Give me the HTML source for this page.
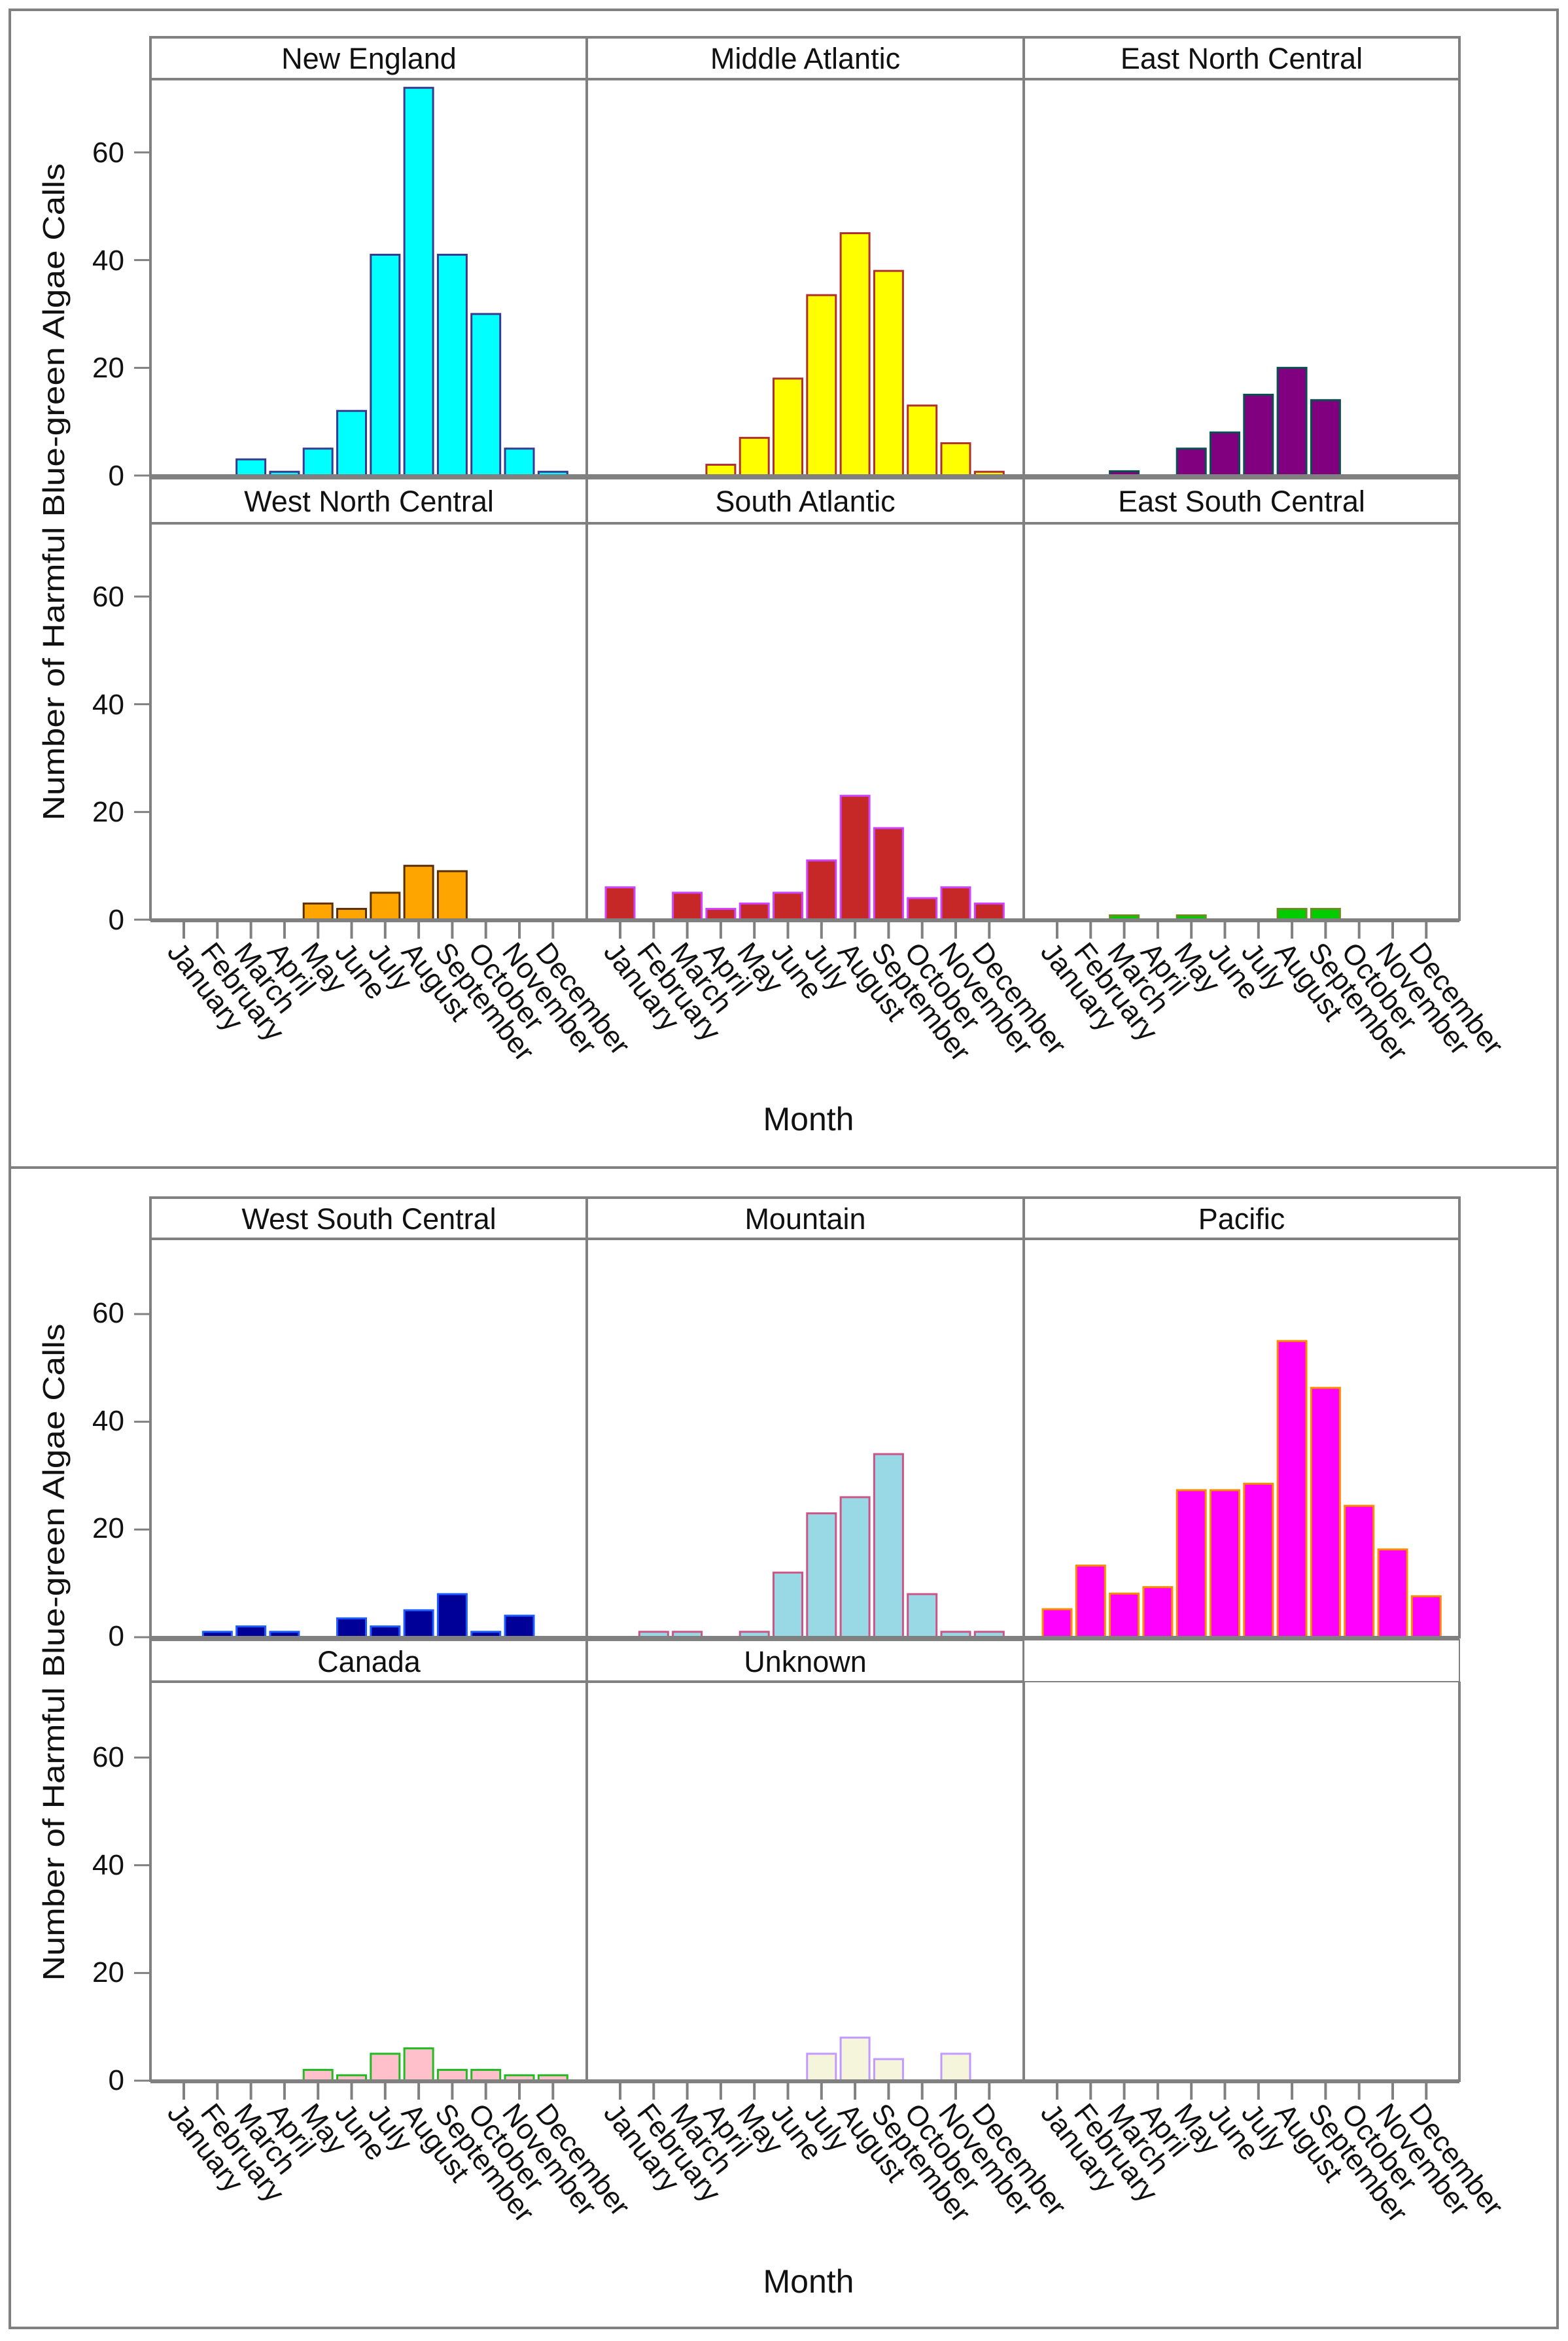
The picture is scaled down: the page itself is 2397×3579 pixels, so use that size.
<!DOCTYPE html>
<html><head><meta charset="utf-8"><style>
html,body{margin:0;padding:0;background:#fff;}
svg{display:block;}
text{font-family:"Liberation Sans",Arial,sans-serif;fill:#111;}
.s{font-size:45px;text-anchor:middle;}
.y{font-size:44px;text-anchor:end;}
.m{font-size:44px;}
</style></head><body>
<svg id="c" width="2397" height="3579" viewBox="0 0 2397 3579" xmlns="http://www.w3.org/2000/svg">
<rect width="2397" height="3579" fill="#fff"/>
<g id="g"></g>
<g id="txt">
<text transform="translate(98,752) rotate(-90)" font-size="46" text-anchor="middle" textLength="1005" lengthAdjust="spacingAndGlyphs">Number of Harmful Blue-green Algae Calls</text>
<text transform="translate(98,2526) rotate(-90)" font-size="46" text-anchor="middle" textLength="1005" lengthAdjust="spacingAndGlyphs">Number of Harmful Blue-green Algae Calls</text>
<text x="1236" y="1728" font-size="50" text-anchor="middle">Month</text>
<text x="1236" y="3505" font-size="50" text-anchor="middle">Month</text>
<text class="s" x="564" y="105">New England</text>
<text class="s" x="1231" y="105">Middle Atlantic</text>
<text class="s" x="1898" y="105">East North Central</text>
<text class="s" x="564" y="782">West North Central</text>
<text class="s" x="1231" y="782">South Atlantic</text>
<text class="s" x="1898" y="782">East South Central</text>
<text class="s" x="564" y="1879">West South Central</text>
<text class="s" x="1231" y="1879">Mountain</text>
<text class="s" x="1898" y="1879">Pacific</text>
<text class="s" x="564" y="2556">Canada</text>
<text class="s" x="1231" y="2556">Unknown</text>
<g>
<text class="y" x="190" y="742">0</text><text class="y" x="190" y="577">20</text><text class="y" x="190" y="413">40</text><text class="y" x="190" y="248">60</text>
<text class="y" x="190" y="1421">0</text><text class="y" x="190" y="1256">20</text><text class="y" x="190" y="1092">40</text><text class="y" x="190" y="927">60</text>
<text class="y" x="190" y="2516">0</text><text class="y" x="190" y="2351">20</text><text class="y" x="190" y="2187">40</text><text class="y" x="190" y="2022">60</text>
<text class="y" x="190" y="3195">0</text><text class="y" x="190" y="3030">20</text><text class="y" x="190" y="2866">40</text><text class="y" x="190" y="2701">60</text>
</g>
</g>
<g id="months"></g>
</svg>
<div id="tmpl" style="display:none">
<svg><g id="mt">
<text class="m" transform="translate(24,1510) rotate(52)">January</text>
<text class="m" transform="translate(75,1510) rotate(52)">February</text>
<text class="m" transform="translate(126,1510) rotate(52)">March</text>
<text class="m" transform="translate(177,1510) rotate(52)">April</text>
<text class="m" transform="translate(228,1510) rotate(52)">May</text>
<text class="m" transform="translate(280,1510) rotate(52)">June</text>
<text class="m" transform="translate(331,1510) rotate(52)">July</text>
<text class="m" transform="translate(382,1510) rotate(52)">August</text>
<text class="m" transform="translate(433,1510) rotate(52)">September</text>
<text class="m" transform="translate(484,1510) rotate(52)">October</text>
<text class="m" transform="translate(536,1510) rotate(52)">November</text>
<text class="m" transform="translate(587,1510) rotate(52)">December</text>
</g></svg>
</div>
<script>
(function(){
var NS="http://www.w3.org/2000/svg";
var g=document.getElementById('g');
function el(t,a,p){var e=document.createElementNS(NS,t);for(var k in a)e.setAttribute(k,a[k]);(p||g).appendChild(e);return e;}
var G="#808080";
var L=[230,897,1565],R=2231;
var U=8.233;
el('rect',{x:15,y:15,width:2366,height:1770,fill:'none',stroke:G,'stroke-width':4});
el('rect',{x:15,y:1785,width:2366,height:1774,fill:'none',stroke:G,'stroke-width':4});
var data=[
 [[0,0,3,0.7,5,12,41,72,41,30,5,0.7],'#00FFFF','#3a3a8c'],
 [[0,0,0,2,7,18,33.5,45,38,13,6,0.7],'#FFFF00','#b03030'],
 [[0,0,0.8,0,5,8,15,20,14,0,0,0],'#800080','#0a4f4f'],
 [[0,0,0,0,3,2,5,10,9,0,0,0],'#FFA500','#5a3000'],
 [[6,0,5,2,3,5,11,23,17,4,6,3],'#C62828','#cc44ff'],
 [[0,0,0.8,0,0.8,0,0,2,2,0,0,0],'#00CC00','#6b8e23'],
 [[0,1,2,1,0,3.5,2,5,8,1,4,0],'#000099','#1e5cff'],
 [[0,1,1,0,1,12,23,26,34,8,1,1],'#99D9E6','#cc5588'],
 [[5.2,13.3,8.1,9.3,27.3,27.3,28.5,55,46.3,24.4,16.3,7.6],'#FF00FF','#FF8C00'],
 [[0,0,0,0,2,1,5,6,2,2,1,1],'#FFC0CB','#22bb22'],
 [[0,0,0,0,0,0,5,8,4,0,5,0],'#F5F5DC','#c299ff'],
 null
];
var rows=[[57,121,727],[731,800,1406],[1831,1894,2503],[2507,2571,3181]];
for(var r=0;r<4;r++){
 var st=rows[r][0],pt=rows[r][1],z=rows[r][2];
 for(var c=0;c<3;c++){
  var x=L[c],w=(c<2?L[c+1]:R)-x;
  var d=data[r*3+c];
  el('rect',{x:x,y:st,width:w,height:pt-st,fill:'#fff',stroke:G,'stroke-width':(d?4:2)});
  el('line',{x1:x,y1:pt,x2:x,y2:z+2,stroke:G,'stroke-width':4});
  el('line',{x1:x+w,y1:pt,x2:x+w,y2:z+2,stroke:G,'stroke-width':4});
  if(d){
   for(var i=0;i<12;i++){
    var v=d[0][i]; if(!v) continue;
    var cx=x+51+i*51.3, h=v*U;
    el('rect',{x:cx-22,y:z-h,width:44,height:h,fill:d[1],stroke:d[2],'stroke-width':3});
   }
  }
  el('line',{x1:x,y1:z+1,x2:x+w,y2:z+1,stroke:G,'stroke-width':6});
  if(r==1||r==3){
   for(var i=0;i<12;i++){var tx=x+51+i*51.3;el('line',{x1:tx,y1:z+3,x2:tx,y2:z+29,stroke:G,'stroke-width':4});}
  }
 }
 for(var k=0;k<4;k++){var yy=z-k*20*U;el('line',{x1:205,y1:yy,x2:230,y2:yy,stroke:G,'stroke-width':3});}
}
var mt=document.getElementById('mt');
var mg=document.getElementById('months');
var offs=[[230,-54],[897,-54],[1565,-54],[230,1721],[897,1721],[1565,1721]];
for(var j=0;j<offs.length;j++){
 var cl=mt.cloneNode(true); cl.removeAttribute('id');
 cl.setAttribute('transform','translate('+offs[j][0]+','+offs[j][1]+')');
 mg.appendChild(cl);
}
})();
</script>
</body></html>
